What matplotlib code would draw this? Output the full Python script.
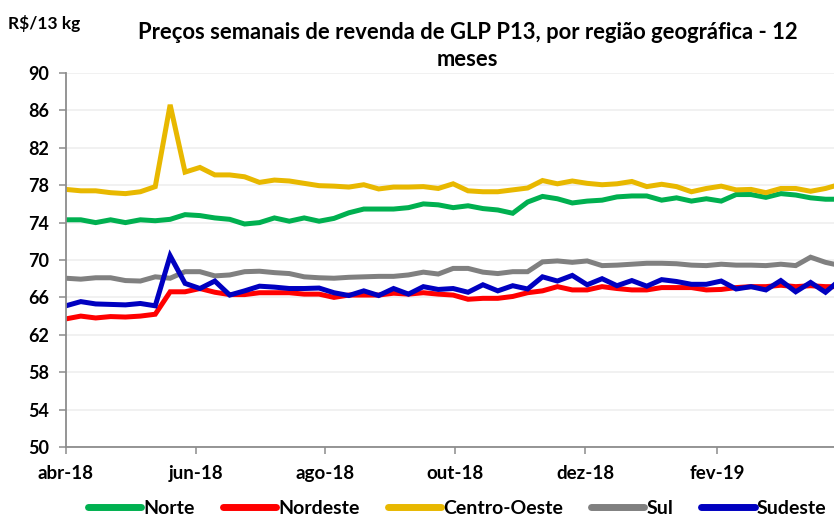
import pandas as pd
import matplotlib
matplotlib.use("Agg")
import matplotlib.pyplot as plt

plt.rcParams['font.family'] = ['Lato', 'DejaVu Sans']

# weekly prices, R$/13 kg (last point falls just beyond the right edge)
semanas = pd.date_range("2018-04-01", periods=53, freq="7D")

norte = [74.3, 74.3, 74.0, 74.3, 74.0, 74.3, 74.2, 74.35, 74.85, 74.75, 74.5, 74.35,
         73.85, 74.0, 74.5, 74.15, 74.5, 74.15, 74.45, 75.05, 75.45, 75.45, 75.45, 75.6,
         76.0, 75.9, 75.6, 75.8, 75.5, 75.35, 75.0, 76.2, 76.8, 76.55, 76.1, 76.3, 76.4,
         76.75, 76.85, 76.85, 76.4, 76.65, 76.3, 76.55, 76.3, 77.0, 77.0, 76.7, 77.1,
         76.95, 76.65, 76.5, 76.5]
nordeste = [63.7, 64.0, 63.8, 63.95, 63.9, 64.0, 64.2, 66.6, 66.6, 66.95, 66.55, 66.3,
            66.3, 66.5, 66.5, 66.5, 66.35, 66.35, 66.0, 66.25, 66.25, 66.25, 66.45, 66.35,
            66.5, 66.35, 66.25, 65.8, 65.9, 65.9, 66.1, 66.5, 66.7, 67.15, 66.8, 66.8,
            67.15, 66.95, 66.8, 66.8, 67.05, 67.05, 67.05, 66.8, 66.85, 67.05, 67.15,
            67.15, 67.3, 67.15, 67.25, 67.15, 67.15]
centro_oeste = [77.55, 77.4, 77.4, 77.2, 77.1, 77.3, 77.85, 86.6, 79.4, 79.9, 79.1, 79.1,
                78.9, 78.3, 78.55, 78.45, 78.2, 77.95, 77.9, 77.8, 78.05, 77.6, 77.8, 77.8,
                77.85, 77.65, 78.15, 77.4, 77.3, 77.3, 77.5, 77.7, 78.5, 78.15, 78.45, 78.2,
                78.05, 78.15, 78.4, 77.85, 78.1, 77.85, 77.3, 77.65, 77.9, 77.5, 77.55,
                77.2, 77.65, 77.65, 77.35, 77.65, 78.1]
sul = [68.05, 67.95, 68.1, 68.1, 67.8, 67.75, 68.2, 68.05, 68.75, 68.75, 68.3, 68.4,
       68.75, 68.8, 68.65, 68.55, 68.2, 68.1, 68.05, 68.15, 68.2, 68.25, 68.25, 68.4,
       68.7, 68.5, 69.1, 69.1, 68.7, 68.55, 68.75, 68.75, 69.8, 69.9, 69.75, 69.9, 69.4,
       69.45, 69.55, 69.65, 69.65, 69.6, 69.45, 69.4, 69.55, 69.45, 69.45, 69.4, 69.55,
       69.4, 70.3, 69.75, 69.4]
sudeste = [65.1, 65.55, 65.3, 65.25, 65.2, 65.35, 65.1, 70.45, 67.5, 66.95, 67.75, 66.25,
           66.7, 67.2, 67.1, 66.95, 66.95, 67.0, 66.5, 66.2, 66.7, 66.2, 66.95, 66.35,
           67.15, 66.85, 66.95, 66.55, 67.35, 66.7, 67.25, 66.9, 68.2, 67.75, 68.35, 67.35,
           68.0, 67.25, 67.8, 67.2, 67.9, 67.7, 67.4, 67.4, 67.75, 66.9, 67.15, 66.8, 67.8,
           66.6, 67.6, 66.55, 67.9]

regioes = ["Norte", "Nordeste", "Centro-Oeste", "Sul", "Sudeste"]
series = [norte, nordeste, centro_oeste, sul, sudeste]
cores = ["#00B050", "#FF0000", "#E8B800", "#808080", "#0000C0"]

meses = ["abr-18", "jun-18", "ago-18", "out-18", "dez-18", "fev-19"]
ticks_x = pd.to_datetime(["2018-04-01", "2018-06-01", "2018-08-01",
                          "2018-10-01", "2018-12-01", "2019-02-01"])
ticks_y = list(range(50, 91, 4))

fig = plt.figure(figsize=(8.34, 5.2), dpi=100)
ax = fig.add_axes([0.079, 0.1404, 0.921, 0.7192])

for nome, vals, cor in zip(regioes, series, cores):
    ax.plot(semanas, vals, color=cor, lw=3.6, label=nome, solid_joinstyle="miter")

ax.set_xlim(pd.Timestamp("2018-04-01"), pd.Timestamp("2019-03-28"))
ax.set_ylim(50, 90)
ax.set_yticks(ticks_y)
ax.set_xticks(ticks_x)
ax.set_xticklabels(meses)
ax.grid(axis="y", color="#EFEFEF", lw=1.2)
ax.set_axisbelow(True)

for s in ["top", "right"]:
    ax.spines[s].set_visible(False)
for s in ["left", "bottom"]:
    ax.spines[s].set_color("#8C8C8C")
    ax.spines[s].set_linewidth(1.3)
ax.tick_params(axis="both", colors="#8C8C8C", length=5, width=1.1)
ax.tick_params(axis="y", pad=7)
ax.tick_params(axis="x", pad=8)
for lab in ax.get_xticklabels():
    lab.set_color("black")
    lab.set_fontweight("bold")
    lab.set_fontsize(13.5)
for lab in ax.get_yticklabels():
    lab.set_color("black")
    lab.set_fontweight("bold")
    lab.set_fontsize(13)

fig.text(0.01, 0.955, "R$/13 kg", fontsize=12.5, fontweight="bold", va="center")
fig.text(0.561, 0.938, "Preços semanais de revenda de GLP P13, por região geográfica - 12",
         fontsize=15.8, fontweight="bold", ha="center", va="center")
fig.text(0.561, 0.885, "meses", fontsize=15.8, fontweight="bold", ha="center", va="center")

leg = fig.legend(loc="center", bbox_to_anchor=(0.548, 0.022), ncol=5, frameon=False,
                 prop={"weight": "bold", "size": 14}, handlelength=2.75,
                 handletextpad=0.1, columnspacing=1.45, borderaxespad=0)
for ln in leg.get_lines():
    ln.set_linewidth(5)
    ln.set_solid_capstyle("round")

fig.savefig("out.png", dpi=100)
